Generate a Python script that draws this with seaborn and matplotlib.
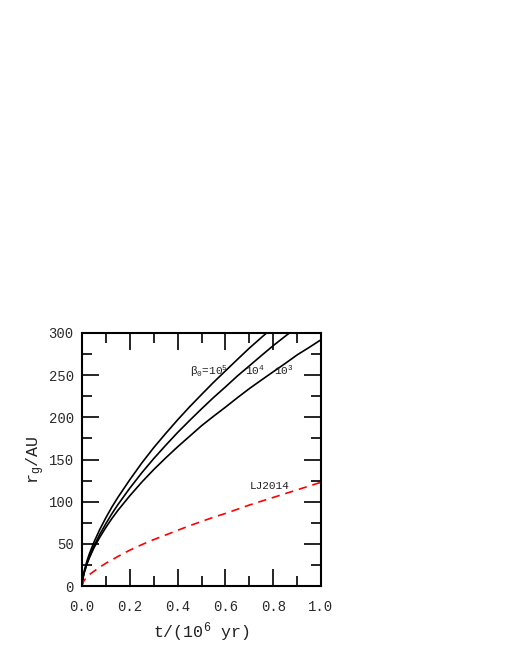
import numpy as np
import pandas as pd
import matplotlib
matplotlib.use("Agg")
import matplotlib.pyplot as plt
import seaborn as sns
from matplotlib.ticker import MultipleLocator

# ---- data ----
t = [0.0, 0.005, 0.01, 0.02, 0.03, 0.05, 0.075, 0.1, 0.125, 0.15, 0.2, 0.25, 0.3,
     0.35, 0.4, 0.45, 0.5, 0.55, 0.6, 0.65, 0.7, 0.75, 0.8, 0.85, 0.9, 0.95, 1.0]
r_beta1e5 = [0.0, 11.9, 18.6, 29.0, 37.5, 52.0, 67.4, 81.0, 93.6, 105.0, 126.0, 145.8, 164.0,
             180.8, 197.0, 212.4, 227.0, 241.4, 255.0, 268.6, 282.0, 294.5, 307.0, 319.0, 331.0, 342.6, 354.0]
r_beta1e4 = [0.0, 10.7, 16.7, 26.2, 34.0, 47.4, 61.6, 74.0, 85.7, 96.4, 116.0, 134.2, 151.0,
             166.8, 182.0, 196.2, 210.0, 223.4, 236.0, 249.0, 261.0, 273.1, 285.0, 296.1, 307.0, 318.2, 329.0]
r_beta1e3 = [0.0, 10.8, 16.6, 25.5, 32.8, 45.3, 58.1, 69.5, 80.0, 89.6, 107.0, 123.1, 138.0,
             151.8, 165.0, 177.5, 190.0, 201.2, 212.0, 223.2, 234.0, 244.1, 254.0, 263.8, 274.0, 282.8, 292.0]
r_lj2014 = [0.0, 4.5, 7.0, 10.5, 13.3, 17.5, 22.5, 27.0, 31.0, 35.0, 42.5, 49.0, 55.0,
            60.5, 66.0, 71.5, 76.5, 81.5, 86.0, 91.0, 96.0, 100.5, 105.0, 109.5, 114.0, 118.5, 123.0]

series_names = ["1e5", "1e4", "1e3"]
x_ticks = [0.0, 0.2, 0.4, 0.6, 0.8, 1.0]
y_ticks = [0, 50, 100, 150, 200, 250, 300]

sns.set_style("white")
plt.rcParams['font.family'] = ['Liberation Mono', 'DejaVu Sans']
plt.rcParams['mathtext.fontset'] = 'custom'
plt.rcParams['mathtext.rm'] = 'Liberation Mono'
plt.rcParams['mathtext.default'] = 'regular'

df = pd.DataFrame({
    "t": t * 3,
    "r": r_beta1e5 + r_beta1e4 + r_beta1e3,
    "beta": [series_names[0]] * len(t) + [series_names[1]] * len(t) + [series_names[2]] * len(t),
})
df_lj = pd.DataFrame({"t": t, "r": r_lj2014})

fig = plt.figure(figsize=(5.1, 6.6), dpi=100)
ax = fig.add_axes([82/510, 74/660, 239/510, 253/660])

sns.lineplot(data=df, x="t", y="r", units="beta", estimator=None,
             color="black", lw=1.2, ax=ax, legend=False)
sns.lineplot(data=df_lj, x="t", y="r", color="red", lw=1.2,
             ax=ax, legend=False)
ax.lines[-1].set_dashes([5, 3.5])

ax.set_xlim(0, 1.0)
ax.set_ylim(0, 300)
ax.set_xticks(x_ticks)
ax.set_yticks(y_ticks)
ax.set_xticklabels([f"{v:.1f}" for v in x_ticks])
ax.set_yticklabels([str(v) for v in y_ticks])
ax.xaxis.set_minor_locator(MultipleLocator(0.1))
ax.yaxis.set_minor_locator(MultipleLocator(25))
ax.tick_params(which='both', direction='in', top=True, right=True, bottom=True, left=True,
               width=1.2, colors='black', labelcolor='#2a2a2a', labelsize=10)
ax.tick_params(which='major', length=12)
ax.tick_params(which='minor', length=7)
ax.tick_params(axis='x', pad=10)
ax.tick_params(axis='y', pad=6)
for s in ax.spines.values():
    s.set_linewidth(1.5)
    s.set_color('black')

ax.set_xlabel(r"t/(10$^6$ yr)", fontsize=12, color='#222222', labelpad=5)
ax.set_ylabel(r"r$_g$/AU", fontsize=12, color='#222222', labelpad=1)

ax.text(0.452, 254, r"β$_0$=10$^5$", fontsize=8, color='#222222', va='center', ha='left')
ax.text(0.68, 256, r"10$^4$", fontsize=8, color='#222222', va='center', ha='left')
ax.text(0.805, 256, r"10$^3$", fontsize=8, color='#222222', va='center', ha='left')
ax.text(0.70, 118, "LJ2014", fontsize=8, color='#222222', va='center', ha='left')

fig.savefig("out.png", dpi=100)
